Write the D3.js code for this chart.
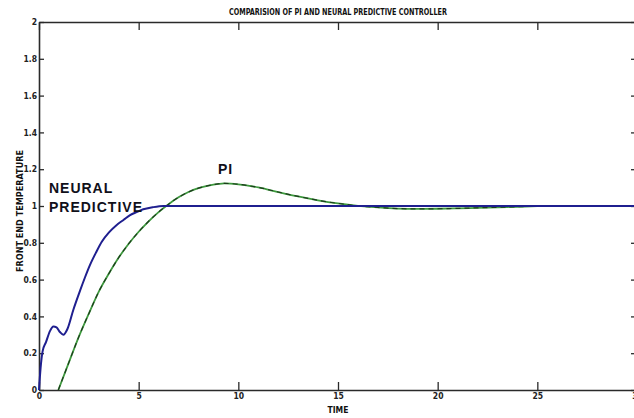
<!DOCTYPE html>
<html>
<head>
<meta charset="utf-8">
<script src="https://cdn.jsdelivr.net/npm/d3@7"></script>
<style>
  html, body { margin: 0; padding: 0; background: #fff; }
  svg { display: block; }
</style>
</head>
<body>
<svg id="chart" width="634" height="418"></svg>
<script>
// ---- data ----
const title = "COMPARISION OF PI AND NEURAL PREDICTIVE CONTROLLER";
const xLabel = "TIME";
const yLabel = "FRONT END TEMPERATURE";
const xTicks = [0, 5, 10, 15, 20, 25, 30];
const yTicks = [0, 0.2, 0.4, 0.6, 0.8, 1, 1.2, 1.4, 1.6, 1.8, 2];

const neuralX = [0, 0.08, 0.18, 0.35, 0.55, 0.72, 0.88, 1.05, 1.22, 1.42, 1.72, 2.06, 2.3, 2.56, 2.85, 3.15, 3.5, 3.9, 4.25, 4.57, 4.9, 5.23, 5.7, 6.24, 7, 10, 15, 20, 25, 30];
const neuralY = [0, 0.12, 0.21, 0.26, 0.32, 0.345, 0.34, 0.315, 0.30, 0.33, 0.435, 0.54, 0.61, 0.68, 0.745, 0.806, 0.855, 0.897, 0.925, 0.95, 0.967, 0.982, 0.993, 1.0, 1.0, 1.0, 1.0, 1.0, 1.0, 1.0];

const piX = [0.97, 1.5, 2, 2.5, 3, 3.5, 4, 4.5, 5, 5.5, 6, 6.5, 7, 7.5, 8, 8.5, 9, 9.3, 10, 11, 12, 13, 14, 15, 16, 17, 18, 19, 20, 21, 22, 23, 24, 25, 26, 30];
const piY = [0, 0.15, 0.29, 0.415, 0.535, 0.632, 0.72, 0.795, 0.86, 0.917, 0.967, 1.01, 1.047, 1.076, 1.097, 1.111, 1.12, 1.123, 1.118, 1.101, 1.076, 1.052, 1.031, 1.014, 1.001, 0.992, 0.986, 0.984, 0.985, 0.987, 0.99, 0.993, 0.996, 0.999, 1.0, 1.0];

const annotations = [
  { text: "NEURAL", x: 0.5, y: 1.07 },
  { text: "PREDICTIVE", x: 0.5, y: 0.97 },
  { text: "PI", x: 8.98, y: 1.173 }
];

// ---- layout ----
const svg = d3.select("#chart");
const x = d3.scaleLinear().domain([0, 30]).range([39, 637]);
const y = d3.scaleLinear().domain([0, 2]).range([390, 22]);
const narrow = "'Liberation Sans Narrow', 'DejaVu Sans Condensed', 'Arial Narrow', sans-serif";

svg.append("rect").attr("width", 634).attr("height", 418).attr("fill", "#fff");

// title
svg.append("text")
  .attr("x", 338).attr("y", 15)
  .attr("text-anchor", "middle")
  .attr("font-family", narrow).attr("font-weight", "bold")
  .attr("font-size", 8.5)
  .attr("textLength", 218).attr("lengthAdjust", "spacingAndGlyphs")
  .attr("fill", "#111")
  .text(title);

// axes (MATLAB style box with inward ticks)
const axColor = "#2a2a2a";
const gB = svg.append("g").attr("transform", `translate(0,${y(0)})`)
  .call(d3.axisBottom(x).tickValues(xTicks).tickSizeInner(-8).tickSizeOuter(0).tickPadding(3).tickFormat(d3.format("d")));
const gT = svg.append("g").attr("transform", `translate(0,${y(2)})`)
  .call(d3.axisTop(x).tickValues(xTicks).tickSizeInner(-8).tickSizeOuter(0).tickFormat(""));
const gL = svg.append("g").attr("transform", `translate(${x(0)},0)`)
  .call(d3.axisLeft(y).tickValues(yTicks).tickSizeInner(-5).tickSizeOuter(0).tickPadding(3).tickFormat(d => d3.format("~g")(d)));
const gR = svg.append("g").attr("transform", `translate(${x(30)},0)`)
  .call(d3.axisRight(y).tickValues(yTicks).tickSizeInner(-6).tickSizeOuter(0).tickFormat(""));

[gB, gT, gL, gR].forEach(g => {
  g.select(".domain").attr("stroke", axColor).attr("stroke-width", 1.6);
  g.selectAll(".tick line").attr("stroke", axColor).attr("stroke-width", 1.3);
  g.selectAll(".tick text").attr("font-family", narrow).attr("font-size", 8.5)
    .attr("fill", "#222").attr("font-weight", "bold");
});
gL.selectAll(".tick text").attr("dx", 1);

// axis labels
svg.append("text")
  .attr("x", 338).attr("y", 413)
  .attr("text-anchor", "middle")
  .attr("font-family", narrow).attr("font-weight", "bold").attr("font-size", 8.5)
  .attr("fill", "#111")
  .text(xLabel);

svg.append("text")
  .attr("transform", `translate(23,211) rotate(-90)`)
  .attr("text-anchor", "middle")
  .attr("font-family", narrow).attr("font-weight", "bold").attr("font-size", 8.5)
  .attr("textLength", 122).attr("lengthAdjust", "spacingAndGlyphs")
  .attr("fill", "#111")
  .text(yLabel);

// lines
const line = d3.line().x(d => x(d[0])).y(d => y(d[1])).curve(d3.curveMonotoneX);
const neural = neuralX.map((v, i) => [v, neuralY[i]]);
const pi = piX.map((v, i) => [v, piY[i]]);

svg.append("path").datum(pi)
  .attr("d", line).attr("fill", "none")
  .attr("stroke", "#3e9a3e").attr("stroke-width", 1.8);
svg.append("path").datum(pi)
  .attr("d", line).attr("fill", "none")
  .attr("stroke", "#142414").attr("stroke-width", 1.2).attr("stroke-opacity", 0.8)
  .attr("stroke-dasharray", "5,4");

svg.append("path").datum(neural)
  .attr("d", line).attr("fill", "none")
  .attr("stroke", "#1f1f8f").attr("stroke-width", 2);

// annotations
svg.selectAll("text.ann").data(annotations).enter().append("text")
  .attr("class", "ann")
  .attr("x", d => x(d.x)).attr("y", d => y(d.y))
  .attr("font-family", "'Liberation Sans', Arial, sans-serif")
  .attr("font-weight", "bold").attr("font-size", 14)
  .attr("letter-spacing", 1)
  .attr("fill", "#10101a")
  .text(d => d.text);
</script>
</body>
</html>
